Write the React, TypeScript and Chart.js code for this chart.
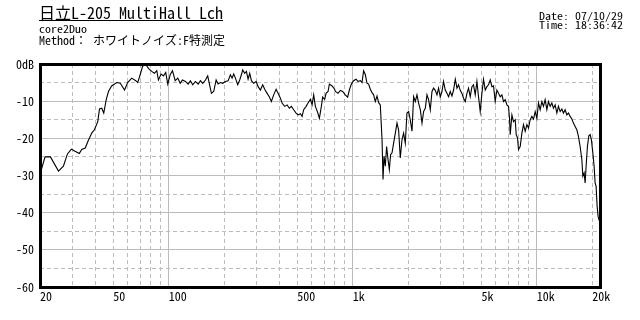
import React, { useEffect, useRef } from 'react';
import { Chart, registerables } from 'chart.js';

Chart.register(...registerables);

// ---- text ----
const titleText = '日立L-205 MultiHall Lch';
const subtitleLines = ['core2Duo', 'Method： ホワイトノイズ:F特測定'];
const stampLines = ['Date: 07/10/29', 'Time: 18:36:42'];

// ---- data: frequency (Hz) and level (dB) ----
const freqHz = [
  20, 21.3, 22.8, 25.2, 26.8, 28.2, 29.6, 31.0, 32.7, 33.7,
  35.2, 36.6, 38.2, 39.5, 41.2, 42.1, 43.3, 44.4, 45.8, 47.1,
  49.0, 52.2, 54.6, 57.6, 59.9, 63.0, 66.3, 67.9, 70.0, 72.1,
  73.9, 76.1, 78.3, 80.9, 83.7, 86.2, 88.0, 91.0, 93.7, 96.4,
  98.9, 101.9, 104.9, 108.5, 112.1, 115.5, 118.8,
  123.4, 127.6, 131.3, 135.2, 139.8, 144.6, 148.8, 153.2, 158.5, 163.0,
  166.6, 170.7, 175.7, 181.1, 185.7, 191.1, 196.7, 203.4, 210.4, 216.6,
  221.1, 225.6, 230.5, 237.3, 243.2, 248.4, 252.5, 259.0, 264.5, 270.1,
  275.6, 281.6, 289.7, 298.6, 306.2, 315.1, 324.3, 332.5, 342.7, 352.6,
  361.5, 372.0, 383.5, 393.1, 404.6, 413.2, 426.9, 439.9, 452.7, 464.2,
  477.8, 492.4, 504.9, 519.6, 530.8, 541.5, 558.0, 572.1, 588.8, 601.4,
  613.6, 626.8, 642.6, 658.9, 675.5, 686.6, 704.0, 716.4, 734.4, 746.5,
  772.3, 797.7,
  804.7, 832.2, 856.6, 881.5, 911.8, 938.4, 958.7, 982.9, 1011, 1042,
  1068, 1100, 1123, 1146, 1171, 1196, 1220, 1246, 1273, 1299,
  1326, 1355, 1383, 1412, 1443, 1461, 1479, 1503, 1528, 1555,
  1581, 1606, 1635, 1668, 1704, 1740, 1775, 1813, 1852, 1890,
  1930, 1971, 2012, 2054, 2099, 2142, 2187, 2234, 2280, 2329,
  2379, 2427, 2479, 2532, 2583, 2639, 2695, 2749, 2809, 2869,
  2927, 2989, 3054, 3115, 3182, 3251, 3317, 3387, 3461, 3531,
  3607, 3684, 3757, 3839, 3921, 4000, 4086, 4173, 4258, 4349,
  4443, 4532,
  4630, 4729, 4825, 4928, 5033, 5136, 5246, 5359, 5467, 5585,
  5704, 5820, 5944, 6072, 6195, 6328, 6465, 6595, 6737, 6882,
  7020, 7108, 7171, 7325, 7473, 7634, 7730, 7857, 7955, 8126,
  8300, 8468, 8650, 8835, 9014, 9207, 9406, 9596, 9802, 10012,
  10215, 10431, 10655, 10870, 11103, 11343, 11572, 11821, 12074, 12318,
  12582, 12853, 13112, 13394, 13682, 13957, 14258, 14565, 14860, 15178,
  15504, 15817, 16156, 16503, 16836, 17197, 17569, 17788, 18079, 18306,
  18536, 18840, 19173, 19486, 19805, 20156, 20484, 20743, 21003, 21267,
  21532, 22050,
];

const levelDb = [
  -29.7, -25.0, -25.0, -28.8, -27.5, -24.2, -22.9, -23.5, -24.1, -23.0,
  -22.6, -20.6, -18.6, -17.7, -15.5, -12.1, -11.9, -13.2, -9.6, -7.4,
  -5.9, -5.0, -5.2, -7.0, -5.0, -3.8, -4.5, -5.0, -2.9, -0.7,
  0, -0.5, -1.4, -2.0, -2.5, -1.8, -4.3, -2.7, -3.2, -2.3,
  -5.4, -2.9, -1.8, -4.5, -3.8, -5.2, -4.3,
  -4.7, -5.4, -4.5, -5.6, -4.7, -5.4, -4.5, -5.2, -4.3, -3.2,
  -5.4, -7.9, -7.4, -4.3, -5.4, -5.0, -5.2, -4.7, -4.5, -2.9,
  -3.8, -2.7, -3.8, -5.6, -4.3, -2.9, -1.6, -2.5, -2.0, -4.1,
  -2.5, -4.5, -5.2, -4.7, -6.1, -7.0, -5.6, -6.8, -7.9, -8.9,
  -10.1, -8.3, -6.8, -7.9, -9.2, -10.5, -11.4, -11.0, -11.9, -11.4,
  -12.3, -13.2, -13.7, -13.4, -14.1, -12.3, -11.4, -10.5, -9.5, -11.0,
  -8.3, -11.4, -12.8, -14.6, -11.4, -8.9, -9.5, -7.9, -7.4, -5.4,
  -5.9, -6.8,
  -7.4, -7.9, -7.1, -7.4, -8.3, -8.9, -7.0, -5.4, -4.5, -4.1,
  -4.7, -4.5, -5.0, -1.8, -2.9, -5.2, -5.4, -6.8, -7.7, -8.3,
  -10.1, -8.6, -10.4, -11.0, -20.4, -31.1, -24.8, -27.5, -22.2, -25.7,
  -28.4, -24.4, -23.9, -21.3, -18.6, -15.9, -17.7, -25.3, -20.4, -18.6,
  -21.3, -13.2, -12.8, -15.0, -18.1, -8.8, -10.1, -8.3, -10.5, -12.3,
  -15.9, -12.8, -11.9, -8.3, -9.6, -12.3, -7.4, -6.5, -7.1, -8.3,
  -6.5, -8.9, -7.4, -4.7, -7.0, -7.9, -8.8, -7.4, -8.6, -7.0,
  -4.1, -6.5, -5.6, -7.1, -7.9, -9.2, -10.1, -7.9, -6.5, -8.8,
  -6.1, -5.6,
  -8.3, -4.7, -8.8, -12.8, -7.9, -4.1, -7.0, -6.1, -5.6, -4.3,
  -6.1, -5.9, -10.1, -7.0, -7.9, -8.8, -8.3, -10.1, -9.6, -11.0,
  -11.4, -14.6, -19.0, -13.7, -15.5, -15.0, -19.0, -19.9, -23.0, -22.2,
  -18.6, -16.3, -18.1, -16.3, -17.2, -15.0, -14.1, -14.8, -12.8, -14.6,
  -10.5, -12.3, -10.1, -11.4, -9.6, -12.3, -10.1, -11.4, -10.5, -11.9,
  -11.0, -13.2, -11.4, -12.8, -12.1, -13.2, -12.3, -13.7, -13.2, -14.1,
  -14.8, -15.9, -16.8, -17.7, -19.5, -22.2, -25.7, -30.2, -29.3, -32.0,
  -27.5, -22.2, -19.3, -19.0, -20.4, -23.9, -27.5, -32.0, -32.9, -38.2,
  -41.0, -42.8,
];

// ---- axes ----
const xMin = 20;
const xMax = 22050;
const xGridValues = [
  20, 30, 40, 50, 60, 70, 80, 90,
  100, 200, 300, 400, 500, 600, 700, 800, 900,
  1000, 2000, 3000, 4000, 5000, 6000, 7000, 8000, 9000,
  10000, 20000,
];
const xMajorValues = [100, 1000, 10000];
const xLabelValues = [20, 50, 100, 500, 1000, 5000, 10000, 20000];
const xTickLabels = ['20', '50', '100', '500', '1k', '5k', '10k', '20k'];

const yMin = -60;
const yMax = 0;
const yStep = 5;
const yLabelValues = [0, -10, -20, -30, -40, -50, -60];
const yTickLabels = ['0dB', '-10', '-20', '-30', '-40', '-50', '-60'];

const MONO = '"Noto Sans Mono CJK JP", "DejaVu Sans Mono", monospace';
const GRID = '#bcbcbc';
const DASH = [4, 3];

const framePlugin = {
  id: 'frame',
  afterDraw(chart: any) {
    const { ctx, chartArea } = chart;
    const { left, top, right, bottom } = chartArea;
    ctx.save();
    ctx.strokeStyle = '#000';
    ctx.lineWidth = 3;
    ctx.strokeRect(left + 0.5, top + 0.5, right - left, bottom - top);
    ctx.restore();
  },
};

export default function App() {
  const ref = useRef<HTMLCanvasElement | null>(null);

  useEffect(() => {
    const canvas = ref.current;
    if (!canvas) return;
    const chart = new Chart(canvas, {
      type: 'line',
      data: {
        datasets: [
          {
            data: freqHz.map((f, i) => ({ x: f, y: levelDb[i] })),
            borderColor: '#000',
            borderWidth: 1.1,
            pointRadius: 0,
            tension: 0,
            fill: false,
          },
        ],
      },
      options: {
        responsive: false,
        animation: false,
        devicePixelRatio: 1,
        layout: { padding: { left: 0, top: 64, right: 40, bottom: 0 } },
        plugins: {
          legend: { display: false },
          tooltip: { enabled: false },
          title: { display: false },
        },
        scales: {
          x: {
            type: 'logarithmic',
            min: xMin,
            max: xMax,
            afterFit(scale: any) {
              scale.height = 33;
            },
            afterBuildTicks(scale: any) {
              scale.ticks = xGridValues.map((v) => ({ value: v }));
            },
            grid: {
              color: GRID,
              lineWidth: 1,
              drawTicks: false,
            },
            border: {
              display: false,
              dash: (ctx: any) =>
                ctx.tick && xMajorValues.includes(ctx.tick.value) ? [] : DASH,
            },
            ticks: {
              autoSkip: false,
              maxRotation: 0,
              minRotation: 0,
              align: 'start',
              padding: 2,
              color: '#000',
              font: { family: MONO, size: 12 },
              callback: (v: any) => {
                const i = xLabelValues.indexOf(Number(v));
                return i >= 0 ? xTickLabels[i] : '';
              },
            },
          },
          y: {
            min: yMin,
            max: yMax,
            afterFit(scale: any) {
              scale.width = 40;
            },
            grid: {
              color: GRID,
              lineWidth: 1,
              drawTicks: false,
            },
            border: {
              display: false,
              dash: (ctx: any) =>
                ctx.tick && ctx.tick.value % 10 === 0 ? [] : DASH,
            },
            ticks: {
              stepSize: yStep,
              autoSkip: false,
              padding: 6,
              color: '#000',
              font: { family: MONO, size: 12 },
              callback: (v: any) => {
                const i = yLabelValues.indexOf(Number(v));
                return i >= 0 ? yTickLabels[i] : '';
              },
            },
          },
        },
      } as any,
      plugins: [framePlugin],
    });
    return () => chart.destroy();
  }, []);

  const base: React.CSSProperties = {
    position: 'absolute',
    fontFamily: MONO,
    whiteSpace: 'nowrap',
    color: '#000',
  };
  const tiny: React.CSSProperties = {
    ...base,
    fontSize: 10,
    lineHeight: '10px',
    transform: 'scaleX(1.2)',
  };

  return (
    <div
      style={{
        position: 'fixed',
        left: 0,
        top: 0,
        width: 640,
        height: 320,
        background: '#fff',
        overflow: 'hidden',
      }}
    >
      <canvas
        ref={ref}
        width={640}
        height={320}
        style={{ position: 'absolute', left: 0, top: 0, width: 640, height: 320 }}
      />
      <div
        style={{
          ...base,
          left: 39,
          top: 4,
          fontSize: 16,
          lineHeight: '16px',
          textDecoration: 'underline',
        }}
      >
        {titleText}
      </div>
      <div style={{ ...tiny, left: 39, top: 24, transformOrigin: 'left top' }}>
        {subtitleLines[0]}
      </div>
      <div style={{ ...base, left: 39, top: 34, fontSize: 12, lineHeight: '12px' }}>
        {subtitleLines[1]}
      </div>
      <div
        style={{ ...tiny, right: 17, top: 10.5, textAlign: 'right', transformOrigin: 'right top' }}
      >
        {stampLines[0]}
      </div>
      <div
        style={{ ...tiny, right: 17, top: 20, textAlign: 'right', transformOrigin: 'right top' }}
      >
        {stampLines[1]}
      </div>
    </div>
  );
}
